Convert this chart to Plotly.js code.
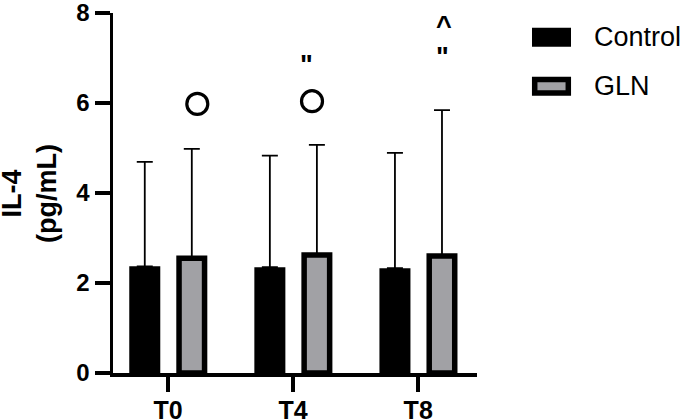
<!DOCTYPE html>
<html>
<head>
<meta charset="utf-8">
<script src="https://cdn.plot.ly/plotly-3.0.1.min.js"></script>
<style>html,body{margin:0;padding:0;background:#fff;}#chart{width:685px;height:419px;}</style>
</head>
<body>
<div id="chart"></div>
<script>
// Data
const categories = ["T0", "T4", "T8"];
const controlMean = [2.37, 2.35, 2.33];
const controlErr = [2.32, 2.48, 2.56];
const glnMean = [2.55, 2.62, 2.6];
const glnErr = [2.43, 2.45, 3.24];
const seriesNames = ["Control", "GLN"];
const yTicks = [0, 2, 4, 6, 8];
// Significance markers (x in category index units)
const circleX = [0.234, 1.151];
const circleY = [5.98, 6.04];
const sigX = [1.11, 2.197, 2.209];
const sigY = [6.98, 7.15, 7.85];
const sigText = ['"', '"', '^'];

const FONT = "Arial, 'Liberation Sans', sans-serif";
const xIdx = categories.map((c, i) => i);

const traces = [
  {
    type: "bar", name: seriesNames[0], x: xIdx, y: controlMean,
    width: 0.248, offset: -0.31,
    marker: {color: "#000000", line: {color: "#000000", width: 0}},
    error_y: {type: "data", array: controlErr, arrayminus: controlMean.map(() => 0), symmetric: false,
              color: "#000000", thickness: 1.8, width: 8},
    showlegend: false
  },
  {
    type: "bar", name: seriesNames[1], x: xIdx, y: glnMean,
    width: 0.204, offset: 0.088,
    marker: {color: "#a1a1a5", line: {color: "#000000", width: 5.5}},
    error_y: {type: "data", array: glnErr, arrayminus: glnMean.map(() => 0), symmetric: false,
              color: "#000000", thickness: 1.8, width: 8},
    showlegend: false
  },
  {
    type: "scatter", mode: "markers", x: circleX, y: circleY,
    marker: {symbol: "circle-open", size: 21, color: "#000000", line: {width: 3.2, color: "#000000"}},
    cliponaxis: false, showlegend: false, hoverinfo: "skip"
  }
];

const annotations = sigX.map((x, i) => ({
  x: x, y: sigY[i], xref: "x", yref: "y", text: "<b>" + sigText[i] + "</b>", showarrow: false,
  font: {family: FONT, size: 27, color: "#000"}, xanchor: "center", yanchor: "middle", yshift: -6
}));

annotations.push({
  x: -0.231, y: 0.5, xref: "paper", yref: "paper", text: "<b>IL-4</b><br><b>(pg/mL)</b>",
  textangle: -90, showarrow: false, align: "center", xanchor: "center", yanchor: "middle",
  font: {family: FONT, size: 27, color: "#000"}
});

// Legend (manual, to match box sizes)
const legX0 = (532 - 113) / 364, legX1 = (571 - 113) / 364;
const py = p => (373.3 - p) / 360;
const shapes = [
  {type: "rect", xref: "paper", yref: "paper", x0: legX0, x1: legX1, y0: py(47), y1: py(28),
   fillcolor: "#000", line: {width: 0}},
  {type: "rect", xref: "paper", yref: "paper", x0: (534.7 - 113) / 364, x1: (568.3 - 113) / 364,
   y0: py(93.3), y1: py(79.7), fillcolor: "#a1a1a5", line: {width: 5.5, color: "#000"}}
];
annotations.push({
  x: (592 - 113) / 364, y: py(37.5), xref: "paper", yref: "paper", text: seriesNames[0],
  showarrow: false, xanchor: "left", yanchor: "middle", font: {family: FONT, size: 27, color: "#000"}
});
annotations.push({
  x: (592 - 113) / 364, y: py(86.5), xref: "paper", yref: "paper", text: seriesNames[1],
  showarrow: false, xanchor: "left", yanchor: "middle", font: {family: FONT, size: 27, color: "#000"}
});

const layout = {
  width: 685, height: 419,
  margin: {l: 113, r: 208, t: 13, b: 46, pad: 0},
  paper_bgcolor: "#fff", plot_bgcolor: "#fff",
  showlegend: false,
  barmode: "group",
  xaxis: {
    range: [-0.44, 2.47], tickvals: xIdx, ticktext: categories.map(c => "<b>" + c + "</b>"),
    showgrid: false, zeroline: false, showline: true, linecolor: "#000", linewidth: 3.5,
    ticks: "outside", ticklen: 15, tickwidth: 3.5, tickcolor: "#000", ticklabelstandoff: -3,
    tickfont: {family: FONT, size: 25, color: "#000"}, fixedrange: true
  },
  yaxis: {
    range: [0, 8], tickvals: yTicks, ticktext: yTicks.map(v => "<b>" + v + "</b>"),
    showgrid: false, zeroline: false, showline: true, linecolor: "#000", linewidth: 3.5,
    ticks: "outside", ticklen: 15, tickwidth: 3.5, tickcolor: "#000",
    ticklabeloverflow: "allow",
    tickfont: {family: FONT, size: 24, color: "#000"}, fixedrange: true
  },
  annotations: annotations,
  shapes: shapes
};

Plotly.newPlot("chart", traces, layout, {displayModeBar: false, staticPlot: true});
</script>
</body>
</html>
